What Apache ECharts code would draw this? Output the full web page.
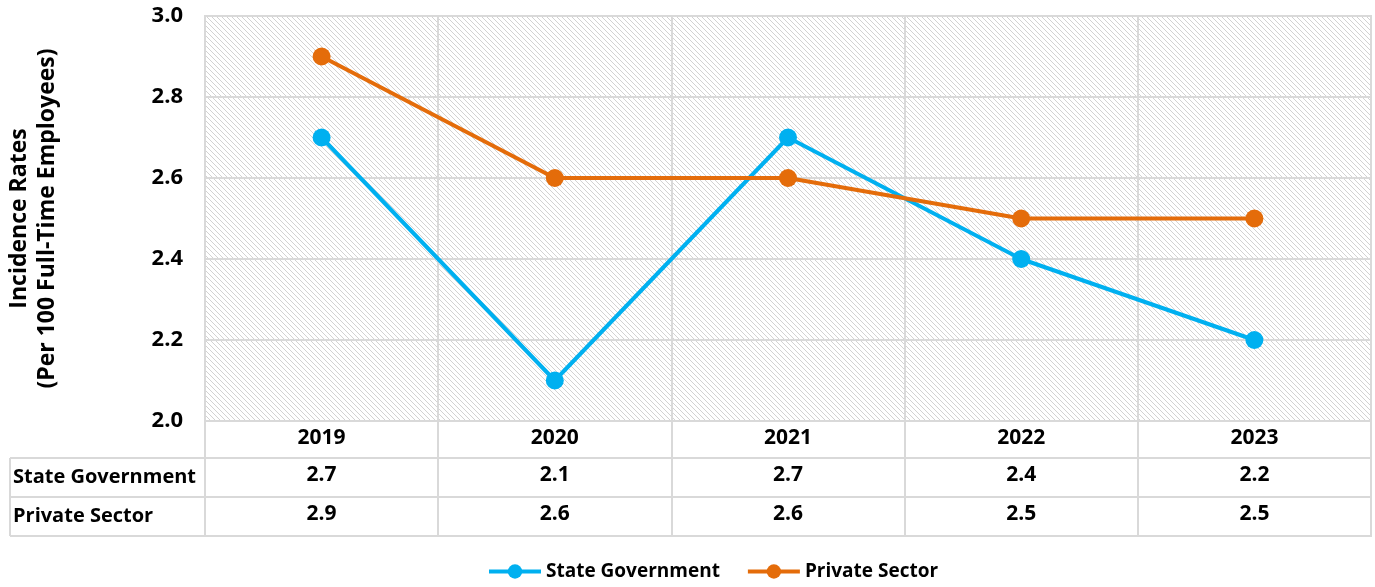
<!DOCTYPE html>
<html><head><meta charset="utf-8">
<script src="https://cdn.jsdelivr.net/npm/echarts@6/dist/echarts.min.js"></script>
<style>html,body{margin:0;padding:0;background:#fff}#c{width:1375px;height:587px}</style>
</head><body><div id="c"></div>
<script>
const years = ['2019', '2020', '2021', '2022', '2023'];
const stateGov = [2.7, 2.1, 2.7, 2.4, 2.2];
const privateSector = [2.9, 2.6, 2.6, 2.5, 2.5];
const seriesNames = ['State Government', 'Private Sector'];
const yTicks = { min: 2.0, max: 3.0, interval: 0.2 };
const yTitle = 'Incidence Rates\n(Per 100 Full-Time Employees)';
const colors = ['#00B0F0', '#E46C0A'];

const pc = document.createElement('canvas'); pc.width = 5; pc.height = 5;
const ctx = pc.getContext('2d'); ctx.fillStyle = '#d2d2d2';
for (let i = 0; i < 5; i++) ctx.fillRect(i, i, 1, 1);

const FONT = 'Open Sans';
const GL = '#d9d9d9';
const L = 205, R = 4;
const rows = [stateGov, privateSector];
const txt = (size) => ({ fontFamily: FONT, fontWeight: 'bold', fontSize: size, color: '#000' });

const grid = [{ left: L, right: R, top: 16, height: 405, show: true, borderColor: GL, borderWidth: 2,
  outerBoundsMode: 'none', containLabel: false,
  backgroundColor: { image: pc, repeat: 'repeat' } }];
const xAxis = [{
  gridIndex: 0, type: 'category', data: years, boundaryGap: true,
  axisLine: { show: false },
  axisTick: { show: true, length: 37, interval: 0, lineStyle: { color: GL, width: 2 } },
  axisLabel: Object.assign({ margin: 7, interval: 0 }, txt(21)),
  splitLine: { show: true, interval: 0, lineStyle: { color: GL, width: 2 } }
}];
const yAxis = [{
  gridIndex: 0, type: 'value', min: yTicks.min, max: yTicks.max, interval: yTicks.interval,
  name: yTitle, nameLocation: 'middle', nameRotate: 90, nameGap: 144,
  nameTextStyle: Object.assign({ lineHeight: 28 }, txt(23)),
  axisLine: { show: false }, axisTick: { show: false },
  axisLabel: Object.assign({ margin: 22, formatter: v => v.toFixed(1) }, txt(22)),
  splitLine: { show: true, lineStyle: { color: GL, width: 2 } }
}];
rows.forEach((r, i) => {
  grid.push({ left: L, right: R, top: 458 + 39 * i, height: 39, show: true, borderColor: GL, borderWidth: 2,
    outerBoundsMode: 'none', containLabel: false });
  xAxis.push({
    gridIndex: i + 1, type: 'category', data: r.map(v => v.toFixed(1)), boundaryGap: true,
    axisLine: { show: false }, axisTick: { show: false },
    axisLabel: Object.assign({ margin: -32, interval: 0 }, txt(21)),
    splitLine: { show: true, interval: 0, lineStyle: { color: GL, width: 2 } }
  });
  yAxis.push({
    gridIndex: i + 1, type: 'category', data: [seriesNames[i]],
    axisLine: { show: false },
    axisTick: { show: true, length: 195, lineStyle: { color: GL, width: 2 } },
    axisLabel: Object.assign({ margin: 192, align: 'left' }, txt(20)),
    splitLine: { show: false }
  });
});

const series = [stateGov, privateSector].map((d, i) => ({
  name: seriesNames[i], type: 'line', data: d, xAxisIndex: 0, yAxisIndex: 0,
  symbol: 'circle', symbolSize: 18, showSymbol: true,
  itemStyle: { color: colors[i] }, lineStyle: { color: colors[i], width: 4 },
  emphasis: { disabled: true }
}));

const chart = echarts.init(document.getElementById('c'), null, { renderer: 'canvas' });
chart.setOption({
  animation: false,
  color: colors,
  grid, xAxis, yAxis, series,
  legend: {
    bottom: 1, left: 482, itemWidth: 52, itemHeight: 18, itemGap: 26,
    data: seriesNames, lineStyle: { width: 4 },
    textStyle: txt(19)
  },
  graphic: [{ type: 'line', shape: { x1: 10, y1: 458, x2: 10, y2: 536 }, style: { stroke: GL, lineWidth: 2 } }]
});
</script></body></html>
